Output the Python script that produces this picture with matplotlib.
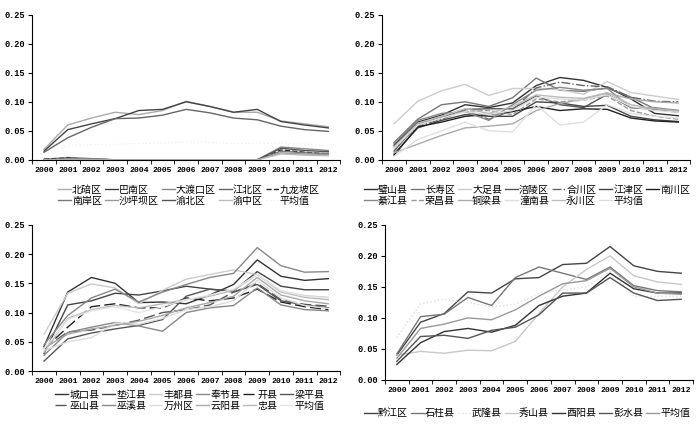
import matplotlib
matplotlib.use('Agg')
import matplotlib.pyplot as plt
import numpy as np

plt.rcParams['font.family'] = ['Noto Sans CJK SC', 'DejaVu Sans']

years = ['2000', '2001', '2002', '2003', '2004', '2005', '2006',
         '2007', '2008', '2009', '2010', '2011', '2012']

# 图1 都市区
names1 = ['北碚区', '巴南区', '大渡口区', '江北区', '九龙坡区',
          '南岸区', '沙坪坝区', '渝北区', '渝中区', '平均值']
data1 = [
    [0.018, 0.060, 0.072, 0.082, 0.078, 0.085, 0.101, 0.092, 0.082, 0.082, 0.067, 0.062, 0.057],
    [0.015, 0.052, 0.062, 0.071, 0.085, 0.087, 0.100, 0.092, 0.082, 0.087, 0.066, 0.060, 0.055],
    [0.001, 0.004, 0.002, 0.000, 0.000, 0.000, 0.000, 0.000, 0.000, 0.000, 0.022, 0.019, 0.016],
    [0.013, 0.038, 0.056, 0.071, 0.072, 0.077, 0.087, 0.081, 0.072, 0.069, 0.058, 0.052, 0.049],
    [0.001, 0.003, 0.001, 0.000, 0.000, 0.000, 0.000, 0.000, 0.000, 0.000, 0.017, 0.013, 0.010],
    [0.000, 0.002, 0.002, 0.000, 0.000, 0.000, 0.000, 0.000, 0.000, 0.000, 0.015, 0.012, 0.011],
    [0.000, 0.001, 0.001, 0.000, 0.000, 0.000, 0.000, 0.000, 0.000, 0.000, 0.012, 0.010, 0.009],
    [0.000, 0.000, 0.000, 0.000, 0.000, 0.000, 0.000, 0.000, 0.000, 0.000, 0.020, 0.016, 0.014],
    [0.000, 0.000, 0.000, 0.000, 0.000, 0.000, 0.000, 0.000, 0.000, 0.000, 0.010, 0.008, 0.007],
    [0.010, 0.024, 0.026, 0.027, 0.028, 0.029, 0.031, 0.030, 0.028, 0.028, 0.029, 0.027, 0.024],
]
colors1 = ['#aaaaaa', '#444444', '#888888', '#666666', '#222222',
           '#777777', '#999999', '#555555', '#bbbbbb', '#f0f0f0']
styles1 = ['-', '-', '-', '-', '--', '-', '-', '-', '-', ':']

# 图2 一小时经济圈
names2 = ['璧山县', '长寿区', '大足县', '涪陵区', '合川区', '江津区', '南川区',
          '綦江县', '荣昌县', '铜梁县', '潼南县', '永川区', '平均值']
data2 = [
    [0.025, 0.065, 0.077, 0.095, 0.090, 0.098, 0.128, 0.142, 0.137, 0.125, 0.105, 0.080, 0.076],
    [0.030, 0.070, 0.095, 0.100, 0.092, 0.107, 0.141, 0.120, 0.118, 0.124, 0.108, 0.088, 0.085],
    [0.062, 0.101, 0.119, 0.130, 0.111, 0.123, 0.123, 0.121, 0.113, 0.135, 0.116, 0.110, 0.104],
    [0.015, 0.062, 0.073, 0.087, 0.088, 0.088, 0.110, 0.095, 0.090, 0.113, 0.090, 0.087, 0.082],
    [0.020, 0.058, 0.070, 0.085, 0.070, 0.085, 0.124, 0.134, 0.128, 0.126, 0.108, 0.101, 0.100],
    [0.010, 0.055, 0.068, 0.078, 0.075, 0.075, 0.100, 0.098, 0.092, 0.094, 0.075, 0.069, 0.066],
    [0.008, 0.057, 0.065, 0.075, 0.078, 0.083, 0.092, 0.085, 0.088, 0.087, 0.072, 0.067, 0.065],
    [0.028, 0.068, 0.080, 0.083, 0.068, 0.095, 0.120, 0.125, 0.120, 0.123, 0.090, 0.090, 0.085],
    [0.018, 0.060, 0.072, 0.084, 0.085, 0.078, 0.105, 0.100, 0.103, 0.110, 0.085, 0.075, 0.070],
    [0.012, 0.027, 0.042, 0.055, 0.058, 0.062, 0.085, 0.097, 0.105, 0.115, 0.105, 0.100, 0.098],
    [0.006, 0.035, 0.050, 0.065, 0.050, 0.048, 0.095, 0.060, 0.065, 0.095, 0.080, 0.075, 0.072],
    [0.022, 0.063, 0.075, 0.088, 0.080, 0.092, 0.112, 0.108, 0.106, 0.116, 0.095, 0.088, 0.084],
    [0.020, 0.060, 0.072, 0.083, 0.078, 0.085, 0.108, 0.105, 0.103, 0.112, 0.092, 0.085, 0.082],
]
colors2 = ['#333333', '#777777', '#cccccc', '#555555', '#666666', '#444444', '#222222',
           '#888888', '#999999', '#aaaaaa', '#e0e0e0', '#bbbbbb', '#dddddd']
styles2 = ['-', '-', '-', '-', '-.', '-', '-', '-', '--', '-', '-', '-', '-']

# 图3 渝东北
names3 = ['城口县', '垫江县', '丰都县', '奉节县', '开县', '梁平县',
          '巫山县', '巫溪县', '万州区', '云阳县', '忠县', '平均值']
data3 = [
    [0.042, 0.135, 0.160, 0.150, 0.117, 0.118, 0.115, 0.130, 0.148, 0.190, 0.162, 0.155, 0.158],
    [0.030, 0.113, 0.120, 0.133, 0.130, 0.137, 0.145, 0.140, 0.137, 0.170, 0.145, 0.139, 0.139],
    [0.063, 0.133, 0.149, 0.142, 0.115, 0.138, 0.157, 0.165, 0.173, 0.165, 0.137, 0.129, 0.126],
    [0.045, 0.095, 0.125, 0.140, 0.118, 0.135, 0.148, 0.160, 0.167, 0.211, 0.180, 0.169, 0.170],
    [0.038, 0.075, 0.110, 0.115, 0.108, 0.108, 0.125, 0.120, 0.125, 0.140, 0.118, 0.110, 0.105],
    [0.017, 0.055, 0.065, 0.072, 0.078, 0.088, 0.128, 0.140, 0.135, 0.148, 0.120, 0.113, 0.108],
    [0.038, 0.067, 0.070, 0.078, 0.087, 0.100, 0.105, 0.113, 0.135, 0.150, 0.122, 0.114, 0.111],
    [0.027, 0.066, 0.075, 0.083, 0.077, 0.068, 0.100, 0.108, 0.112, 0.142, 0.113, 0.105, 0.103],
    [0.035, 0.050, 0.057, 0.082, 0.080, 0.090, 0.105, 0.110, 0.120, 0.155, 0.125, 0.112, 0.107],
    [0.040, 0.063, 0.072, 0.078, 0.085, 0.095, 0.108, 0.117, 0.128, 0.160, 0.130, 0.120, 0.115],
    [0.032, 0.090, 0.105, 0.112, 0.108, 0.115, 0.122, 0.128, 0.138, 0.165, 0.135, 0.126, 0.122],
    [0.038, 0.088, 0.103, 0.110, 0.100, 0.110, 0.122, 0.130, 0.140, 0.165, 0.137, 0.128, 0.125],
]
colors3 = ['#333333', '#444444', '#cccccc', '#888888', '#222222', '#555555',
           '#555555', '#888888', '#dddddd', '#aaaaaa', '#bbbbbb', '#e5e5e5']
styles3 = ['-', '-', '-', '-', (0, (8, 3)), '-', (0, (8, 3)), '-', '-', '-', '-', '-']

# 图4 渝东南
names4 = ['黔江区', '石柱县', '武隆县', '秀山县', '酉阳县', '彭水县', '平均值']
data4 = [
    [0.040, 0.093, 0.107, 0.142, 0.140, 0.163, 0.165, 0.186, 0.188, 0.215, 0.184, 0.175, 0.172],
    [0.042, 0.102, 0.106, 0.133, 0.120, 0.165, 0.182, 0.172, 0.162, 0.182, 0.152, 0.144, 0.142],
    [0.068, 0.123, 0.130, 0.125, 0.118, 0.122, 0.140, 0.145, 0.150, 0.175, 0.135, 0.135, 0.135],
    [0.040, 0.046, 0.043, 0.048, 0.047, 0.062, 0.107, 0.150, 0.178, 0.200, 0.168, 0.158, 0.154],
    [0.025, 0.060, 0.078, 0.083, 0.077, 0.088, 0.120, 0.135, 0.140, 0.172, 0.147, 0.140, 0.140],
    [0.030, 0.070, 0.072, 0.067, 0.080, 0.085, 0.105, 0.140, 0.140, 0.165, 0.140, 0.128, 0.130],
    [0.035, 0.083, 0.090, 0.100, 0.097, 0.113, 0.135, 0.155, 0.160, 0.180, 0.150, 0.140, 0.138],
]
colors4 = ['#444444', '#777777', '#e0e0e0', '#c8c8c8', '#333333', '#555555', '#999999']
styles4 = ['-', '-', ':', '-', '-', '-', '-']

yticks = [0.00, 0.05, 0.10, 0.15, 0.20, 0.25]


def row_major(items, ncol):
    # matplotlib 按列填充图例，这里改成按行
    nrow = int(np.ceil(len(items) / ncol))
    grid = [items[i * ncol:(i + 1) * ncol] for i in range(nrow)]
    out = []
    for c in range(ncol):
        for r in range(nrow):
            if c < len(grid[r]):
                out.append(grid[r][c])
    return out


def draw(ax, names, data, colors, styles, ncol, legend_xy):
    x = np.arange(len(years))
    lines = []
    for name, vals, c, ls in zip(names, data, colors, styles):
        ln, = ax.plot(x, vals, color=c, linestyle=ls, linewidth=1.0, label=name)
        lines.append(ln)
    ax.set_xlim(-0.5, len(years) - 0.5)
    ax.set_ylim(0, 0.25)
    ax.set_yticks(yticks)
    ax.set_yticklabels(['%.2f' % v for v in yticks], fontsize=6.2,
                       family='Liberation Mono', fontweight='bold')
    ax.set_xticks(x)
    ax.set_xticklabels(years, fontsize=5.9, family='Liberation Mono', fontweight='bold')
    ax.set_xticks(np.arange(-0.5, len(years)), minor=True)
    ax.tick_params(axis='x', which='major', length=0, pad=5)
    ax.tick_params(axis='x', which='minor', length=3, direction='out')
    ax.tick_params(axis='y', length=3, direction='out', pad=2)
    ax.spines['top'].set_visible(False)
    ax.spines['right'].set_visible(False)
    for s in ['left', 'bottom']:
        ax.spines[s].set_linewidth(0.8)
    ax.spines['bottom'].set_zorder(5)
    h = row_major(lines, ncol)
    l = row_major(names, ncol)
    fig.legend(h, l, loc='center', bbox_to_anchor=legend_xy, ncol=ncol, frameon=False,
               fontsize=7.2, handlelength=1.3, handletextpad=0.1, columnspacing=0.3,
               labelspacing=0.1, borderpad=0)


fig = plt.figure(figsize=(7, 4.25), dpi=100)
ax1 = fig.add_axes([0.046, 0.624, 0.44, 0.341])
ax2 = fig.add_axes([0.546, 0.624, 0.44, 0.341])
ax3 = fig.add_axes([0.046, 0.127, 0.44, 0.344])
ax4 = fig.add_axes([0.550, 0.106, 0.44, 0.365])

draw(ax1, names1, data1, colors1, styles1, 5, (0.27, 0.541))
draw(ax2, names2, data2, colors2, styles2, 7, (0.753, 0.541))
draw(ax3, names3, data3, colors3, styles3, 6, (0.271, 0.058))
draw(ax4, names4, data4, colors4, styles4, 7, (0.753, 0.028))

plt.savefig('out.png', dpi=100)
